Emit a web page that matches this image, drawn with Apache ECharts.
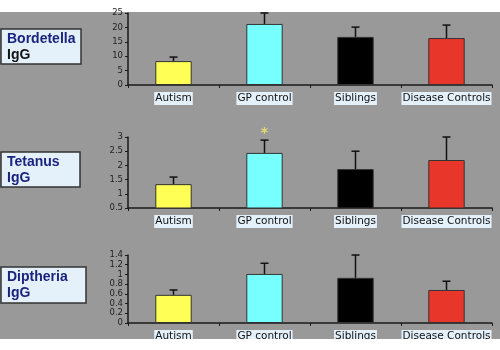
<!DOCTYPE html>
<html>
<head>
<meta charset="utf-8">
<script src="https://cdn.jsdelivr.net/npm/echarts@6/dist/echarts.min.js"></script>
<style>
  html, body { margin: 0; padding: 0; background: #fff; }
  #chart { width: 500px; height: 350px; }
</style>
</head>
<body>
<div id="chart"></div>
<script>
// categories shared by the three panels
const groups = ['Autism', 'GP control', 'Siblings', 'Disease Controls']
const barColors = ['#ffff55', '#77ffff', '#000000', '#e8372a']

// means and upper error bar ends
const bordetellaMean = [8.3, 21.2, 16.7, 16.3]
const bordetellaTop = [9.7, 25, 20.1, 20.8]
const tetanusMean = [1.34, 2.44, 1.87, 2.19]
const tetanusTop = [1.59, 2.89, 2.5, 3.0]
const tetanusSig = ['', '*', '', '']
const diptheriaMean = [0.58, 1.01, 0.93, 0.68]
const diptheriaTop = [0.68, 1.23, 1.4, 0.86]

const panelTitles = [['Bordetella', 'IgG'], ['Tetanus', 'IgG'], ['Diptheria', 'IgG']]
const yTicks = [
  { min: 0, max: 25, interval: 5 },
  { min: 0.5, max: 3, interval: 0.5 },
  { min: 0, max: 1.4, interval: 0.2 }
]

const chart = echarts.init(document.getElementById('chart'))

const grids = [
  { left: 128, right: 8, top: 13, bottom: 265 },
  { left: 128, right: 8, top: 137, bottom: 142 },
  { left: 128, right: 8, top: 255, bottom: 27 }
]

const xAxis = grids.map((g, i) => ({
  type: 'category',
  gridIndex: i,
  data: groups,
  axisLine: { lineStyle: { color: '#1a1a1a', width: 1.5 } },
  axisTick: { show: true, length: 3, lineStyle: { color: '#1a1a1a' } },
  axisLabel: {
    interval: 0, hideOverlap: false,
    color: '#111', fontFamily: 'DejaVu Sans', fontSize: 10.5, margin: 7,
    backgroundColor: '#e4f1fb', padding: [1, 1, 1, 1]
  }
}))

const yAxis = yTicks.map((t, i) => ({
  type: 'value',
  gridIndex: i,
  min: t.min, max: t.max, interval: t.interval,
  splitLine: { show: false },
  axisLine: { show: true, lineStyle: { color: '#1a1a1a', width: 1.5 } },
  axisTick: { show: true, length: 3, lineStyle: { color: '#1a1a1a' } },
  axisLabel: { color: '#222', fontFamily: 'DejaVu Sans', fontSize: 8.5, margin: 5 }
}))

const means = [bordetellaMean, tetanusMean, diptheriaMean]
const tops = [bordetellaTop, tetanusTop, diptheriaTop]
const sigs = [null, tetanusSig, null]

const series = []
means.forEach((m, i) => {
  series.push({
    type: 'bar',
    xAxisIndex: i, yAxisIndex: i,
    barWidth: '40%',
    data: m.map((v, k) => ({
      value: v,
      itemStyle: { color: barColors[k], borderColor: '#333', borderWidth: 1 }
    })),
    silent: true
  })
  series.push({
    type: 'custom',
    xAxisIndex: i, yAxisIndex: i,
    clip: false,
    z: 5,
    data: m.map((v, k) => [k, v, tops[i][k]]),
    renderItem: (params, api) => {
      const base = api.coord([api.value(0), api.value(1)])
      const top = api.coord([api.value(0), api.value(2)])
      const children = [
        { type: 'line', shape: { x1: base[0], y1: base[1], x2: top[0], y2: top[1] }, style: { stroke: '#111', lineWidth: 1.5 } },
        { type: 'line', shape: { x1: top[0] - 4, y1: top[1], x2: top[0] + 4, y2: top[1] }, style: { stroke: '#111', lineWidth: 1.5 } }
      ]
      const mark = sigs[i] && sigs[i][params.dataIndex]
      if (mark) {
        children.push({
          type: 'text',
          style: { text: mark, x: top[0], y: top[1] - 7, align: 'center', verticalAlign: 'middle', fill: '#e6dc70', font: 'bold 14px DejaVu Sans' }
        })
      }
      return { type: 'group', children }
    }
  })
})

const boxes = [
  { x: 1, y: 29, w: 80, h: 35 },
  { x: 1, y: 152, w: 79, h: 35 },
  { x: 1, y: 267, w: 85, h: 36 }
]

const graphic = [
  { type: 'rect', z: -10, shape: { x: 0, y: 12, width: 500, height: 327 }, style: { fill: '#999999' } }
]
boxes.forEach((b, i) => {
  graphic.push({
    type: 'rect', shape: { x: b.x, y: b.y, width: b.w, height: b.h },
    style: { fill: '#e4f1fb', stroke: '#333', lineWidth: 1.5 }
  })
  graphic.push({
    type: 'text', x: b.x + 6, y: b.y + 3,
    style: { text: panelTitles[i][0], fill: '#1a237e', font: 'bold 14px "Liberation Sans"' }
  })
  graphic.push({
    type: 'text', x: b.x + 6, y: b.y + 19,
    style: { text: panelTitles[i][1], fill: i === 0 ? '#111' : '#1a237e', font: 'bold 14px "Liberation Sans"' }
  })
})
graphic.push({ type: 'rect', z: 100, shape: { x: 0, y: 339, width: 500, height: 11 }, style: { fill: '#fff' } })

chart.setOption({
  backgroundColor: '#fff',
  animation: false,
  grid: grids,
  xAxis,
  yAxis,
  series,
  graphic
})
</script>
</body>
</html>
